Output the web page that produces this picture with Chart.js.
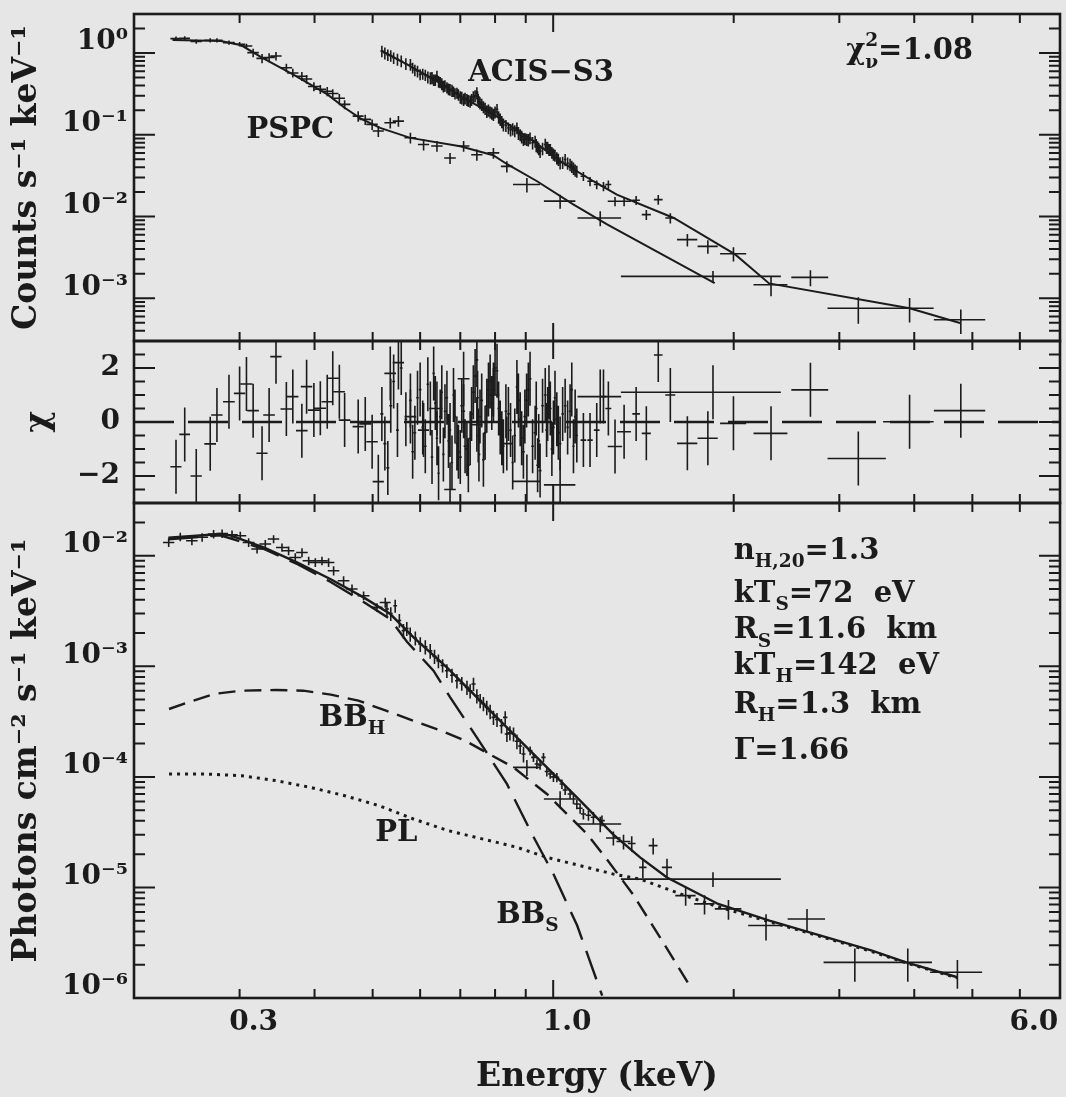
<!DOCTYPE html>
<html>
<head>
<meta charset="utf-8">
<script src="https://cdn.jsdelivr.net/npm/chart.js@4.4.1/dist/chart.umd.min.js"></script>
<style>
  html, body { margin: 0; padding: 0; background: #e6e6e6; }
</style>
</head>
<body>
<canvas id="spec" width="1066" height="1097"></canvas>
<script>
// ---- PSPC counts (top), residuals (middle) ----
var pspcE = [0.235,0.243,0.254,0.268,0.275,0.288,0.300,0.308,0.316,0.327,0.336,0.345,0.359,0.368,0.381,0.388,0.399,0.409,0.420,0.429,0.440,0.449,0.473,0.486,0.499,0.511,0.535,0.552,0.578,0.608,0.640,0.673,0.709,0.746,0.795,0.837,0.904,1.027,1.198,1.847];
var pspcDE = [0.005,0.005,0.0055,0.006,0.006,0.0065,0.0065,0.007,0.007,0.007,0.0075,0.0075,0.008,0.008,0.0085,0.0085,0.009,0.009,0.009,0.0095,0.0095,0.01,0.01,0.011,0.011,0.011,0.012,0.012,0.013,0.013,0.014,0.015,0.016,0.016,0.018,0.019,0.047,0.062,0.10,0.55];
var pspcRate = [1.50,1.51,1.38,1.43,1.43,1.34,1.28,1.22,1.01,0.86,0.88,0.92,0.66,0.57,0.52,0.48,0.39,0.36,0.34,0.32,0.28,0.235,0.169,0.154,0.134,0.111,0.140,0.147,0.092,0.076,0.073,0.052,0.073,0.057,0.060,0.041,0.0246,0.0154,0.0096,0.00185];
var pspcErr = [0.09,0.09,0.08,0.09,0.09,0.08,0.08,0.08,0.12,0.11,0.11,0.11,0.08,0.07,0.065,0.06,0.05,0.045,0.045,0.04,0.035,0.03,0.025,0.022,0.02,0.017,0.021,0.022,0.014,0.012,0.011,0.008,0.011,0.009,0.009,0.0065,0.005,0.003,0.002,0.0003];
var pspcChi = [-1.66,-0.46,-2.0,-0.81,0.26,0.75,1.06,1.41,0.42,-1.16,0.26,2.42,0.48,0.94,-0.32,1.31,0.44,0.51,0.75,1.62,1.12,0.07,-0.17,-0.07,-0.73,-2.21,1.8,2.2,0.2,-0.3,0.5,-2.5,1.6,-0.1,1.0,-0.8,-2.2,-2.33,0.94,1.1];
var pspcModelE = [0.2319,0.2791,0.302,0.3269,0.3682,0.4202,0.449,0.4769,0.5146,0.5776,0.6998,0.7943,0.838,0.940,1.08,1.23,1.859];
var pspcModel = [1.443,1.403,1.243,0.876,0.548,0.312,0.2136,0.1584,0.1215,0.0916,0.0725,0.0562,0.0436,0.0270,0.0141,0.0080,0.00153];

// ---- ACIS-S3 counts (top), residuals (middle) ----
var acisE = [0.518,0.524,0.530,0.536,0.542,0.550,0.558,0.568,0.578,0.583,
  0.588,0.594,0.600,0.606,0.612,0.618,0.624,0.628,0.632,0.636,
  0.640,0.644,0.648,0.652,0.656,0.660,0.665,0.669,0.673,0.678,
  0.682,0.686,0.691,0.695,0.700,0.704,0.709,0.713,0.718,0.722,
  0.727,0.731,0.736,0.741,0.746,0.748,0.750,0.752,0.755,0.760,
  0.765,0.770,0.775,0.780,0.785,0.790,0.795,0.800,0.806,0.811,
  0.816,0.821,0.826,0.834,0.842,0.849,0.856,0.863,0.870,0.875,
  0.881,0.886,0.892,0.897,0.903,0.909,0.915,0.924,0.933,0.937,
  0.942,0.946,0.951,0.960,0.970,0.975,0.979,0.984,0.989,0.995,
  1.001,1.007,1.014,1.020,1.027,1.037,1.047,1.057,1.067,1.074,
  1.081,1.088,1.095,
  1.123,1.152,1.182,1.213,1.236,1.268,1.313,1.375,1.430,1.497,1.568,1.674,1.811,1.998,2.308,2.685,3.227,3.929,4.783];
var acisDE = [0.003,0.003,0.003,0.003,0.003,0.003,0.003,0.003,0.003,0.003,
  0.003,0.003,0.003,0.003,0.003,0.003,0.003,0.003,0.003,0.003,
  0.003,0.003,0.003,0.003,0.003,0.003,0.003,0.003,0.003,0.003,
  0.003,0.003,0.003,0.003,0.004,0.004,0.004,0.004,0.004,0.004,
  0.004,0.004,0.004,0.004,0.004,0.004,0.004,0.004,0.004,0.004,
  0.004,0.004,0.004,0.004,0.004,0.004,0.004,0.004,0.004,0.004,
  0.004,0.004,0.004,0.004,0.004,0.004,0.004,0.004,0.004,0.005,
  0.005,0.005,0.005,0.005,0.005,0.005,0.005,0.005,0.005,0.005,
  0.005,0.005,0.005,0.005,0.005,0.005,0.005,0.005,0.005,0.005,
  0.005,0.005,0.005,0.005,0.005,0.005,0.005,0.005,0.005,0.005,
  0.005,0.005,0.005,
  0.012,0.012,0.013,0.013,0.014,0.035,0.035,0.02,0.025,0.025,0.03,0.065,0.07,0.10,0.15,0.19,0.36,0.38,0.47];
var acisRate = [1.058,1.00,0.95,0.93,0.876,0.84,0.80,0.74,0.727,0.66,
  0.62,0.60,0.548,0.555,0.54,0.51,0.498,0.50,0.47,0.47,
  0.5225,0.45,0.44,0.42,0.394,0.40,0.38,0.365,0.359,0.35,
  0.34,0.32,0.326,0.31,0.29,0.285,0.271,0.28,0.27,0.262,
  0.258,0.27,0.29,0.30,0.326,0.29,0.27,0.255,0.246,0.235,
  0.22,0.21,0.1946,0.20,0.19,0.185,0.1773,0.19,0.2042,0.165,
  0.155,0.145,0.1337,0.13,0.1215,0.115,0.118,0.112,0.1215,0.105,
  0.10,0.095,0.0876,0.09,0.088,0.087,0.0916,0.08,0.0835,0.075,
  0.071,0.068,0.063,0.068,0.0761,0.07,0.07,0.066,0.0661,0.061,
  0.058,0.056,0.0521,0.05,0.0453,0.046,0.0498,0.045,0.0433,0.041,
  0.039,0.037,0.0358,
  0.0311,0.0270,0.0246,0.0234,0.0246,0.01536,0.01536,0.0158,0.01055,0.0161,0.00959,0.00521,0.00431,0.00351,0.00146,0.00180,0.000756,0.000756,0.000546];
var acisErr = [0.17,0.17,0.15,0.15,0.14,0.14,0.13,0.12,0.12,0.10,
  0.10,0.10,0.085,0.085,0.085,0.085,0.085,0.085,0.075,0.075,
  0.085,0.075,0.07,0.07,0.065,0.065,0.06,0.06,0.06,0.06,
  0.05,0.05,0.05,0.05,0.05,0.05,0.046,0.046,0.046,0.044,
  0.044,0.046,0.05,0.05,0.056,0.05,0.046,0.042,0.042,0.04,
  0.037,0.036,0.034,0.034,0.032,0.032,0.03,0.032,0.034,0.029,
  0.027,0.025,0.024,0.022,0.02,0.02,0.02,0.019,0.02,0.019,
  0.017,0.017,0.015,0.015,0.015,0.015,0.015,0.014,0.014,0.014,
  0.012,0.012,0.011,0.012,0.013,0.012,0.012,0.011,0.011,0.01,
  0.01,0.0094,0.0088,0.0085,0.0078,0.0078,0.0085,0.0077,0.0075,0.007,
  0.0068,0.0063,0.0061,
  0.004,0.0035,0.003,0.003,0.003,0.002,0.002,0.002,0.0015,0.0022,0.0014,0.0009,0.0008,0.0007,0.0004,0.0004,0.00027,0.00025,0.00018];
var acisChi = [0.3,-0.8,-1.7,0.6,1.5,-0.3,2.0,0.1,0.8,-1.1,
  -0.4,0.9,1.2,-0.2,-0.9,1.4,0.5,-1.3,1.8,0.7,
  -0.6,-1.9,0.2,1.1,-1.2,0.4,0.9,-0.7,-0.3,-1.5,
  1.0,0.2,-0.8,-1.1,-1.3,0.6,0.4,-0.9,-1.0,-1.6,
  -0.6,0.3,1.1,1.7,2.3,0.9,-0.5,-1.2,0.2,0.8,
  -1.4,-0.4,0.6,1.2,1.5,0.7,1.2,2.0,1.9,0.5,
  -0.2,-0.6,-0.9,0.4,0.3,-0.3,-1.5,-0.5,1.3,0.8,
  0.1,-0.6,-1.1,0.2,0.8,1.2,1.6,-0.9,-0.4,0.5,
  -1.6,-0.7,-1.8,0.6,1.0,-0.3,0.3,1.1,0.5,-1.0,
  -0.2,0.9,0.1,-0.4,-0.8,0.3,0.6,-0.2,0.4,1.2,
  -0.9,0.2,-0.5,
  -0.67,-0.67,-0.3,0.94,0.5,-0.91,-0.36,0.3,-0.42,2.48,1.0,-0.79,-0.6,-0.05,-0.42,1.19,-1.35,0.01,0.42];
var acisModelE = [0.5183,0.5776,0.6398,0.6998,0.7955,0.8588,0.9272,1.027,1.167,1.277,1.589,2.011,2.291,3.929,4.783];
var acisModel = [1.058,0.693,0.4538,0.2972,0.1773,0.1215,0.0835,0.0475,0.0270,0.01855,0.00959,0.00344,0.00152,0.000756,0.000495];

// ---- unfolded photon spectrum (bottom) ----
var unfE = [0.2285,0.2389,0.2498,0.2598,0.2715,0.2805,0.2914,0.3008,0.3106,0.3208,
  0.3311,0.3418,0.3530,0.3621,0.3715,0.3812,0.3911,0.4012,0.4116,0.4222,
  0.4304,0.4472,0.4619,0.4829,0.5083,0.5248,0.5282,0.536,0.5452,0.554,
  0.5628,0.570,0.5776,0.589,0.6003,0.612,0.6237,0.634,0.6436,0.654,
  0.6648,0.678,0.6910,0.704,0.7182,0.727,0.7364,0.746,0.7555,0.765,
  0.7750,0.785,0.7951,0.806,0.820,0.8318,0.8372,0.847,0.8587,0.870,
  0.881,0.8923,0.904,0.9154,0.927,0.9393,0.951,0.9634,0.976,0.9886,
  1.001,1.0143,1.027,1.034,1.047,1.067,1.081,1.095,1.109,1.123,
  1.145,1.167,1.198,1.206,1.26,1.31,1.352,1.411,1.468,1.548,
  1.663,1.788,1.847,1.960,2.264,2.650,3.184,3.902,4.721];
var unfDE = [0.005,0.005,0.0055,0.006,0.006,0.0065,0.0065,0.007,0.007,0.007,
  0.0075,0.0075,0.008,0.008,0.0085,0.0085,0.009,0.009,0.009,0.0095,
  0.0095,0.01,0.01,0.011,0.011,0.011,0.004,0.004,0.004,0.004,
  0.004,0.004,0.004,0.004,0.005,0.005,0.005,0.005,0.005,0.005,
  0.005,0.005,0.005,0.006,0.006,0.006,0.006,0.006,0.006,0.006,
  0.006,0.006,0.006,0.006,0.006,0.007,0.007,0.007,0.007,0.007,
  0.007,0.007,0.047,0.008,0.008,0.008,0.008,0.008,0.008,0.008,
  0.009,0.009,0.062,0.009,0.01,0.01,0.01,0.011,0.011,0.011,
  0.012,0.012,0.10,0.013,0.035,0.035,0.02,0.02,0.025,0.03,
  0.065,0.07,0.55,0.10,0.15,0.19,0.36,0.38,0.47];
var unfFlux = [0.01319,0.01485,0.01366,0.01469,0.01571,0.0159,0.01549,0.01516,0.01319,0.0115,
  0.01276,0.01416,0.01189,0.0111,0.00965,0.01071,0.00901,0.0087,0.00901,0.0087,
  0.00732,0.00594,0.0050,0.00435,0.00341,0.00378,0.0033,0.0030,0.00353,0.0026,
  0.0021,0.0022,0.00196,0.0018,0.00159,0.0015,0.00138,0.00123,0.00112,0.00102,
  0.000912,0.00083,0.000741,0.00070,0.000645,0.00060,0.000691,0.00054,0.000489,0.00046,
  0.000425,0.00039,0.000345,0.00033,0.00029,0.000345,0.000244,0.00025,0.000244,0.00021,
  0.00019,0.000161,0.000122,0.0001726,0.00015,0.0001309,0.000128,0.00015,0.000112,0.0001062,
  0.0001,9.89e-5,6.3e-5,8.63e-5,7.6e-5,7.0e-5,6.3e-5,5.69e-5,5.2e-5,4.62e-5,
  4.5e-5,4.31e-5,3.75e-5,4.02e-5,2.8e-5,2.6e-5,2.5e-5,1.52e-5,2.39e-5,1.52e-5,
  8.43e-6,7.10e-6,1.19e-5,6.40e-6,4.52e-6,5.19e-6,2.10e-6,2.10e-6,1.71e-6];
var unfErr = [0.0012,0.0013,0.0012,0.0013,0.0014,0.0014,0.0014,0.0013,0.0012,0.001,
  0.0011,0.0012,0.001,0.001,0.0009,0.001,0.0008,0.0008,0.0008,0.0008,
  0.0007,0.0006,0.0005,0.0004,0.0003,0.0004,0.00048,0.00043,0.00048,0.00037,
  0.00032,0.00032,0.00029,0.00026,0.00024,0.00022,0.00021,0.00018,0.00016,0.00014,
  0.00013,0.00012,0.00011,0.0001,0.000096,0.000088,0.000096,0.00008,0.000072,0.000067,
  0.000064,0.000058,0.000051,0.000048,0.000043,0.000048,0.000037,0.000037,0.000035,0.000032,
  0.000029,0.000026,0.00002,0.000016,0.000014,0.000013,0.000012,0.000014,0.000011,0.00001,
  0.00001,0.0000095,0.000011,0.0000085,0.0000075,0.000007,0.0000065,0.000006,0.0000055,0.000005,
  0.000005,0.000005,0.000006,0.0000045,0.000004,0.000004,0.000004,0.000003,0.000004,0.000003,
  0.0000016,0.0000014,0.0000018,0.0000013,0.0000012,0.0000012,0.0000007,0.0000007,0.0000005];

var totE = [0.2282,0.2786,0.2895,0.3290,0.3739,0.4249,0.4829,0.5350,0.5851,0.6648,0.7555,0.8587,0.9761,1.109,1.260,1.396,1.548,1.884,2.294,2.793,3.401,3.876,4.721];
var totFlux = [0.01455,0.01571,0.0153,0.01189,0.00870,0.00616,0.00420,0.00297,0.001825,0.000977,0.000489,0.000244,0.0001219,6.10e-5,3.0e-5,1.87e-5,1.23e-5,7.09e-6,5.01e-6,3.67e-6,2.68e-6,2.10e-6,1.54e-6];
var bbsE = [0.2282,0.2786,0.3286,0.3748,0.4249,0.4823,0.535,0.5704,0.6316,0.6734,0.7458,0.8372,0.9215,1.001,1.0965,1.207];
var bbsFlux = [0.0141,0.01532,0.01157,0.00838,0.00582,0.00384,0.002667,0.001669,0.000912,0.000524,0.0002277,8.63e-5,3.05e-5,1.32e-5,4.52e-6,1.05e-6];
var bbhE = [0.2288,0.2510,0.2717,0.3020,0.3447,0.3831,0.4259,0.4734,0.5263,0.5848,0.6502,0.7132,0.7820,0.8587,0.9761,1.054,1.138,1.222,1.357,1.507,1.696];
var bbhFlux = [4.11e-4,4.89e-4,5.62e-4,6.02e-4,6.11e-4,6.02e-4,5.54e-4,4.89e-4,3.97e-4,3.22e-4,2.62e-4,2.125e-4,1.61e-4,1.219e-4,7.0e-5,4.62e-5,3.05e-5,1.87e-5,8.73e-6,3.54e-6,1.25e-6];
var plE = [0.2288,0.2647,0.3020,0.3447,0.3936,0.4490,0.5125,0.5848,0.6674,0.7614,0.8694,0.9761,1.109,1.260,1.396,1.630,1.859,2.294,2.793,3.401,3.876,4.721];
var plFlux = [1.06e-4,1.06e-4,1.026e-4,9.25e-5,8.04e-5,6.76e-5,5.49e-5,4.16e-5,3.27e-5,2.75e-5,2.31e-5,1.87e-5,1.575e-5,1.32e-5,1.19e-5,8.73e-6,6.84e-6,4.9e-6,3.6e-6,2.63e-6,2.08e-6,1.52e-6];

// ---- axes ----
var xTickMarks = [0.3,0.4,0.5,0.6,0.7,0.8,0.9,1,2,3,4,5,6];
var xLabelValues = [0.3, 1, 6];
var xLabelText = ['0.3', '1.0', '6.0'];
var topLabelValues = [1, 0.1, 0.01, 0.001];
var topLabelText = ['10⁰', '10⁻¹', '10⁻²', '10⁻³'];
var chiLabelValues = [2, 0, -2];
var chiLabelText = ['2', '0', '−2'];
var botLabelValues = [1e-2, 1e-3, 1e-4, 1e-5, 1e-6];
var botLabelText = ['10⁻²', '10⁻³', '10⁻⁴', '10⁻⁵', '10⁻⁶'];

var ink = '#1b1b1b';
var serif = '"DejaVu Serif", "Liberation Serif", serif';

// text put on the plot, anchored in data units
var notes = [
  {axis: 'yTop', x: 0.308, y: 0.0908, parts: [['PSPC']]},
  {axis: 'yTop', x: 0.722, y: 0.454, parts: [['ACIS−S3']]},
  {axis: 'yTop', x: 3.08, y: 0.845, parts: [['χ'], ['2', 'sup', true], ['ν', 'sub'], ['=1.08']]},
  {axis: 'yBot', x: 0.4066, y: 2.9e-4, parts: [['BB'], ['H', 'sub']]},
  {axis: 'yBot', x: 0.505, y: 2.65e-5, parts: [['PL']]},
  {axis: 'yBot', x: 0.8035, y: 4.8e-6, parts: [['BB'], ['S', 'sub']]},
  {axis: 'yBot', x: 2.0, y: 9.4e-3, parts: [['n'], ['H,20', 'sub'], ['=1.3']]},
  {axis: 'yBot', x: 2.0, y: 3.84e-3, parts: [['kT'], ['S', 'sub'], ['=72  eV']]},
  {axis: 'yBot', x: 2.0, y: 1.81e-3, parts: [['R'], ['S', 'sub'], ['=11.6  km']]},
  {axis: 'yBot', x: 2.0, y: 8.57e-4, parts: [['kT'], ['H', 'sub'], ['=142  eV']]},
  {axis: 'yBot', x: 2.0, y: 3.8e-4, parts: [['R'], ['H', 'sub'], ['=1.3  km']]},
  {axis: 'yBot', x: 2.0, y: 1.46e-4, parts: [['Γ=1.66']]}
];

// error crosses as broken line segments
function crosses(E, dE, v, dv, lo, hi) {
  var pts = [];
  for (var i = 0; i < E.length; i++) {
    var d = Array.isArray(dv) ? dv[i] : dv;
    pts.push({x: E[i] - dE[i], y: v[i]}, {x: E[i] + dE[i], y: v[i]}, {x: E[i], y: null});
    pts.push({x: E[i], y: Math.max(v[i] - d, lo)}, {x: E[i], y: Math.min(v[i] + d, hi)}, {x: E[i], y: null});
  }
  return pts;
}
function curve(E, v) {
  return E.map(function (e, i) { return {x: e, y: v[i]}; });
}
function labelFor(values, texts) {
  return function (val) {
    for (var i = 0; i < values.length; i++) {
      if (Math.abs(val - values[i]) <= Math.abs(values[i]) * 1e-6 + 1e-9) return texts[i];
    }
    return '';
  };
}
function setTicks(values) {
  return function (s) { s.ticks = values.map(function (v) { return {value: v}; }); };
}

function yMarks(s) {
  var out = [];
  if (s.type === 'logarithmic') {
    for (var k = Math.floor(Math.log10(s.min)); k <= Math.ceil(Math.log10(s.max)); k++) {
      for (var m = 1; m <= 9; m++) {
        var v = m * Math.pow(10, k);
        if (v > s.min * 1.001 && v < s.max * 0.999) out.push({v: v, major: m === 1});
      }
    }
  } else {
    for (var t = -2.5; t <= 2.5; t += 0.5) out.push({v: t, major: t % 2 === 0});
  }
  return out;
}

function richText(ctx, parts, x, y, size) {
  var cx = x;
  parts.forEach(function (p) {
    var mode = p[1];
    var fs = mode ? size * 0.64 : size;
    var dy = mode === 'sub' ? size * 0.3 : (mode === 'sup' ? -size * 0.45 : 0);
    ctx.font = 'bold ' + fs + 'px ' + serif;
    ctx.fillText(p[0], cx, y + dy);
    if (!p[2]) cx += ctx.measureText(p[0]).width;
  });
}

var framePlugin = {
  id: 'frame',
  beforeDraw: function (chart) {
    var ctx = chart.ctx;
    ctx.save();
    ctx.fillStyle = '#e6e6e6';
    ctx.fillRect(0, 0, chart.width, chart.height);
    ctx.restore();
  },
  afterDraw: function (chart) {
    var ctx = chart.ctx, xs = chart.scales.x, a = chart.chartArea;
    ctx.save();
    ctx.strokeStyle = ink;
    ['yTop', 'yMid', 'yBot'].forEach(function (id) {
      var s = chart.scales[id];
      ctx.lineWidth = 2.6;
      ctx.strokeRect(a.left, s.top, a.right - a.left, s.bottom - s.top);
      ctx.lineWidth = 2;
      ctx.beginPath();
      xTickMarks.forEach(function (v) {
        var px = xs.getPixelForValue(v), len = v === 1 ? 18 : 9;
        ctx.moveTo(px, s.top); ctx.lineTo(px, s.top + len);
        ctx.moveTo(px, s.bottom); ctx.lineTo(px, s.bottom - len);
      });
      yMarks(s).forEach(function (m) {
        var py = s.getPixelForValue(m.v), len = m.major ? 21 : 11;
        ctx.moveTo(a.left, py); ctx.lineTo(a.left + len, py);
        ctx.moveTo(a.right, py); ctx.lineTo(a.right - len, py);
      });
      ctx.stroke();
    });
    ctx.fillStyle = ink;
    ctx.textBaseline = 'alphabetic';
    ctx.textAlign = 'left';
    notes.forEach(function (n) {
      richText(ctx, n.parts, xs.getPixelForValue(n.x), chart.scales[n.axis].getPixelForValue(n.y), 29);
    });
    ctx.restore();
  }
};

var tickFont = {family: serif, size: 28, weight: 'bold'};
var titleFont = {family: serif, size: 33, weight: 'bold'};

function yScale(extra) {
  var base = {
    position: 'left',
    stack: 'panels',
    grid: {display: false, drawTicks: false},
    border: {display: false},
    afterFit: function (s) { s.width = 134; s.paddingTop = 0; s.paddingBottom = 0; }
  };
  return Object.assign(base, extra);
}

new Chart(document.getElementById('spec'), {
  type: 'line',
  data: {
    datasets: [
      {data: crosses(pspcE, pspcDE, pspcRate, pspcErr, 3e-4, 3), yAxisID: 'yTop', borderWidth: 1.6},
      {data: crosses(acisE, acisDE, acisRate, acisErr, 3e-4, 3), yAxisID: 'yTop', borderWidth: 1.6},
      {data: curve(pspcModelE, pspcModel), yAxisID: 'yTop', borderWidth: 2},
      {data: curve(acisModelE, acisModel), yAxisID: 'yTop', borderWidth: 2},
      {data: [{x: 0.2, y: 0}, {x: 7, y: 0}], yAxisID: 'yMid', borderWidth: 2.6, borderDash: [40, 14]},
      {data: crosses(pspcE, pspcDE, pspcChi, 1, -3, 3), yAxisID: 'yMid', borderWidth: 1.6},
      {data: crosses(acisE, acisDE, acisChi, 1, -3, 3), yAxisID: 'yMid', borderWidth: 1.6},
      {data: crosses(unfE, unfDE, unfFlux, unfErr, 1e-6, 3e-2), yAxisID: 'yBot', borderWidth: 1.6},
      {data: curve(totE, totFlux), yAxisID: 'yBot', borderWidth: 2.4},
      {data: curve(bbsE, bbsFlux), yAxisID: 'yBot', borderWidth: 2.4, borderDash: [30, 12]},
      {data: curve(bbhE, bbhFlux), yAxisID: 'yBot', borderWidth: 2.4, borderDash: [17, 9]},
      {data: curve(plE, plFlux), yAxisID: 'yBot', borderWidth: 3, borderDash: [3, 5]}
    ]
  },
  options: {
    responsive: false,
    animation: false,
    devicePixelRatio: 1,
    layout: {padding: {top: 14, right: 6, left: 0, bottom: 0}},
    plugins: {legend: {display: false}, tooltip: {enabled: false}},
    elements: {
      point: {radius: 0},
      line: {borderColor: ink, tension: 0, fill: false, borderCapStyle: 'butt'}
    },
    scales: {
      x: {
        type: 'logarithmic', min: 0.2, max: 7,
        grid: {display: false, drawTicks: false},
        border: {display: false},
        afterBuildTicks: setTicks(xLabelValues),
        ticks: {callback: labelFor(xLabelValues, xLabelText), autoSkip: false, maxRotation: 0,
                font: tickFont, color: ink, padding: 8, labelOffset: 14},
        title: {display: true, text: 'Energy (keV)', font: titleFont, color: ink, padding: {top: 0, bottom: 0}},
        afterFit: function (s) { s.height = 99; s.paddingLeft = 0; s.paddingRight = 0; }
      },
      yBot: yScale({
        type: 'logarithmic', min: 1e-6, max: 3e-2, stackWeight: 495,
        afterBuildTicks: setTicks(botLabelValues),
        ticks: {callback: labelFor(botLabelValues, botLabelText), autoSkip: false, font: tickFont, color: ink, padding: 6, labelOffset: -11},
        title: {display: true, text: 'Photons cm⁻² s⁻¹ keV⁻¹', font: titleFont, color: ink, padding: {top: 8}}
      }),
      yMid: yScale({
        type: 'linear', min: -3, max: 3, stackWeight: 162,
        afterBuildTicks: setTicks(chiLabelValues),
        ticks: {callback: labelFor(chiLabelValues, chiLabelText), autoSkip: false, font: tickFont, color: ink, padding: 14},
        title: {display: true, text: 'χ', font: titleFont, color: ink, padding: {top: 20}}
      }),
      yTop: yScale({
        type: 'logarithmic', min: 3e-4, max: 3, stackWeight: 327,
        afterBuildTicks: setTicks(topLabelValues),
        ticks: {callback: labelFor(topLabelValues, topLabelText), autoSkip: false, font: tickFont, color: ink, padding: 6, labelOffset: -11},
        title: {display: true, text: 'Counts s⁻¹ keV⁻¹', font: titleFont, color: ink, padding: {top: 8}}
      })
    }
  },
  plugins: [framePlugin]
});
</script>
</body>
</html>
